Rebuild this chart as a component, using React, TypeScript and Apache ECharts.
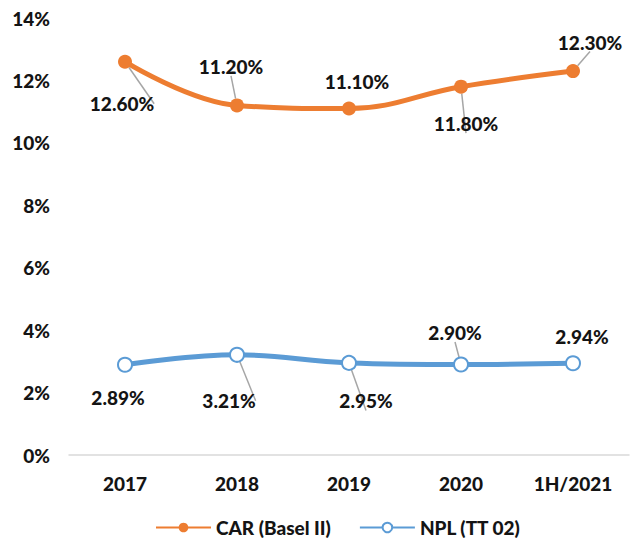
import React, { useEffect, useRef } from "react";
import * as echarts from "echarts";

const categories = ["2017", "2018", "2019", "2020", "1H/2021"];
const carValues = [12.6, 11.2, 11.1, 11.8, 12.3];
const nplValues = [2.89, 3.21, 2.95, 2.9, 2.94];
const yTicks = { min: 0, max: 14, interval: 2 };

// label offsets (style only)
const carOffsets: [number, number][] = [[-3, 42], [-6, -39], [8, -27], [5, 37], [17, -29]];
const carLeader = [true, true, false, true, true];
const nplOffsets: [number, number][] = [[-7, 33], [-8, 46], [17, 38], [-6, -32], [9, -27]];
const nplLeader = [false, true, true, true, false];

const FONT = "Lato, 'Open Sans', sans-serif";
const WEIGHT = 900;
const TEXT = "#141414";

export default function App() {
  const ref = useRef<HTMLDivElement>(null);
  useEffect(() => {
    document.body.style.margin = "0";
    const chart = echarts.init(ref.current!, null, { renderer: "svg" });
    const mk = (vals: number[], offs: [number, number][], leads: boolean[]) =>
      vals.map((v, i) => ({
        value: v,
        label: { offset: offs[i] },
        labelLine: { show: leads[i] },
      }));
    const labelStyle = {
      show: true,
      position: "inside" as const,
      formatter: (p: any) => p.value.toFixed(2) + "%",
      fontFamily: FONT,
      fontWeight: WEIGHT,
      fontSize: 19,
      color: TEXT,
    };
    chart.setOption({
      animation: false,
      grid: { left: 69, right: 4, top: 18, bottom: 90 },
      legend: {
        bottom: 3,
        left: 150,
        itemWidth: 55,
        itemHeight: 12,
        itemGap: 28,
        textStyle: { fontFamily: FONT, fontWeight: WEIGHT, fontSize: 19, color: TEXT },
        data: ["CAR (Basel II)", "NPL (TT 02)"],
      },
      xAxis: {
        type: "category",
        data: categories,
        axisTick: { show: false },
        axisLine: { lineStyle: { color: "#D9D9D9", width: 1.5 } },
        axisLabel: { margin: 19, fontFamily: FONT, fontWeight: WEIGHT, fontSize: 19, color: TEXT },
      },
      yAxis: {
        type: "value",
        min: yTicks.min,
        max: yTicks.max,
        interval: yTicks.interval,
        splitLine: { show: false },
        axisLine: { show: false },
        axisTick: { show: false },
        axisLabel: {
          margin: 19,
          formatter: "{value}%",
          fontFamily: FONT,
          fontWeight: WEIGHT,
          fontSize: 19,
          color: TEXT,
        },
      },
      series: [
        {
          name: "CAR (Basel II)",
          type: "line",
          smooth: 0.4,
          data: mk(carValues, carOffsets, carLeader),
          symbol: "circle",
          symbolSize: 14,
          lineStyle: { color: "#ED7D31", width: 5 },
          itemStyle: { color: "#ED7D31" },
          label: labelStyle,
          labelLine: { show: true, lineStyle: { color: "#A6A6A6", width: 1.5 } },
        },
        {
          name: "NPL (TT 02)",
          type: "line",
          smooth: 0.4,
          data: mk(nplValues, nplOffsets, nplLeader),
          symbol: "emptyCircle",
          symbolSize: 14,
          lineStyle: { color: "#5B9BD5", width: 5 },
          itemStyle: { color: "#5B9BD5", borderWidth: 2 },
          label: labelStyle,
          labelLine: { show: true, lineStyle: { color: "#A6A6A6", width: 1.5 } },
        },
      ],
    });
    return () => chart.dispose();
  }, []);
  return <div ref={ref} style={{ width: 633, height: 545 }} />;
}
